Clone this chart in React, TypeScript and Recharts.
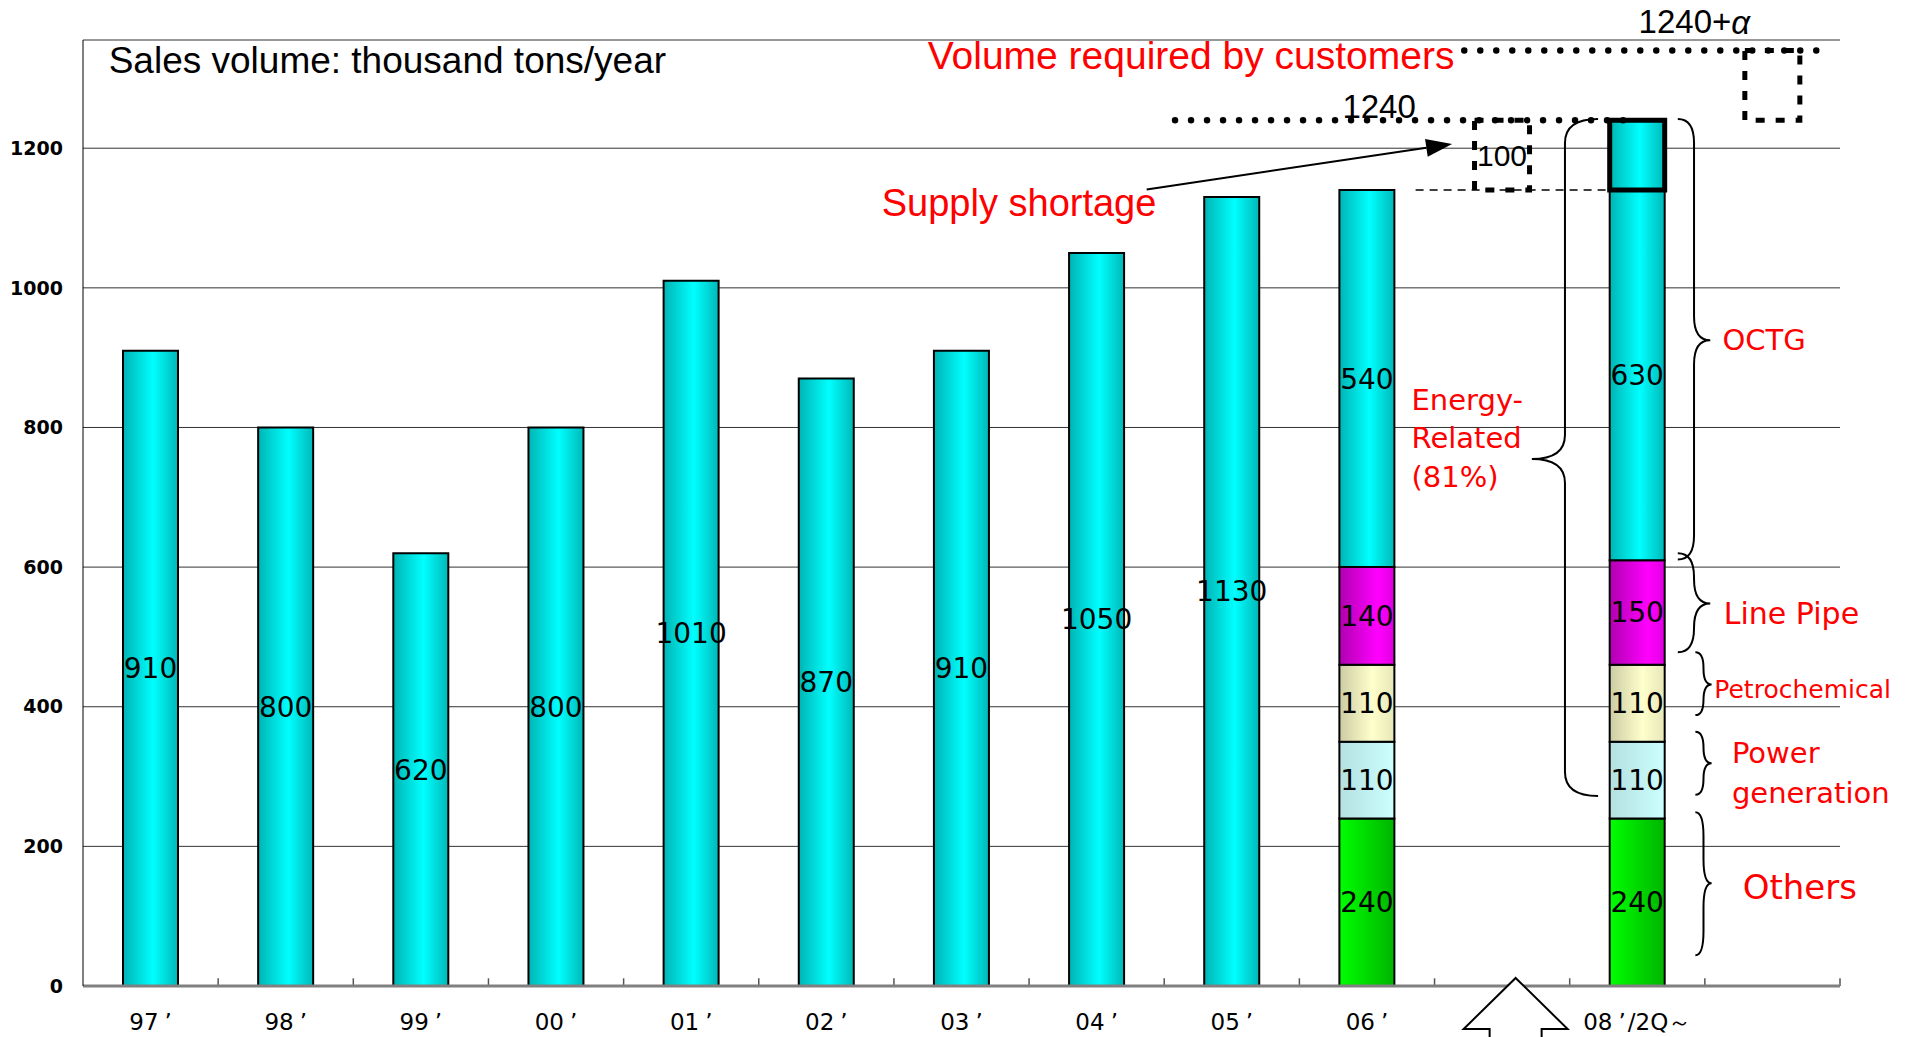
import type { ReactNode } from "react";
import {
  ComposedChart,
  Bar,
  XAxis,
  YAxis,
  CartesianGrid,
  LabelList,
  ReferenceLine,
  ReferenceDot,
  ReferenceArea,
} from "recharts";

// sales volume, thousand tons/year
const years = ["97’", "98’", "99’", "00’", "01’", "02’", "03’", "04’", "05’"];
const yearTotals = [910, 800, 620, 800, 1010, 870, 910, 1050, 1130];

// Others, Power generation, Petrochemical, Line Pipe, OCTG
const breakdown06 = [240, 110, 110, 140, 540];
const breakdown08 = [240, 110, 110, 150, 630];
const shortage = 100;
const alphaBox = 100; // "+α" is drawn as tall as the shortage
const yTicks = [0, 200, 400, 600, 800, 1000, 1200];

const sum = (a: number[]) => a.reduce((s, v) => s + v, 0);
const split = (year: string, b: number[], cut = 0) => ({
  year,
  others: b[0],
  power: b[1],
  petro: b[2],
  linePipe: b[3],
  octg: b[4] - cut,
  octgLabel: b[4],
  short: cut || null,
});

const rows = [
  ...years.map((year, i) => ({ year, total: yearTotals[i] })),
  split("06’", breakdown06),
  { year: "", gap: sum(breakdown06), wanted: shortage, wantedLabel: shortage },
  split("08’/2Q～", breakdown08, shortage),
  { year: " ", gap: sum(breakdown08), wanted: alphaBox },
].map((r, i) => ({ ...r, slot: i + 0.5 }));

const RED = "#ff0000";
const VERD = "DejaVu Sans, Verdana, sans-serif";
const ARIAL = "Liberation Sans, Arial, sans-serif";

type NoteOpts = { size: number; color?: string; font?: string; anchor?: "start" | "middle" | "end" };
const note = (key: string, text: ReactNode, x: number, y: number, o: NoteOpts) => (
  <ReferenceDot
    key={key}
    xAxisId="num"
    x={x}
    y={y}
    r={0}
    ifOverflow="visible"
    shape={(p: any) => (
      <text
        x={p.cx}
        y={p.cy}
        dominantBaseline="central"
        textAnchor={o.anchor ?? "start"}
        fontSize={o.size}
        fontFamily={o.font ?? VERD}
        fill={o.color ?? RED}
      >
        {text}
      </text>
    )}
  />
);

// curly brace inside the area box; tip = 0..1 from the top, dir "right" => "}"
const Brace = ({ x, y, width, height, tip, dir }: any) => {
  if (x == null) return null;
  const ends = dir === "right" ? x : x + width;
  const point = dir === "right" ? x + width : x;
  const mid = x + width / 2;
  const ty = y + tip * height;
  const r = Math.min(height / 4, 24);
  const d = `M${ends},${y} Q${mid},${y} ${mid},${y + r} L${mid},${ty - r} Q${mid},${ty} ${point},${ty} Q${mid},${ty} ${mid},${ty + r} L${mid},${y + height - r} Q${mid},${y + height} ${ends},${y + height}`;
  return <path d={d} fill="none" stroke="#000" strokeWidth={2} />;
};

const brace = (key: string, x1: number, x2: number, lo: number, hi: number, tipAt: number, dir: string) => (
  <ReferenceArea
    key={key}
    xAxisId="num"
    x1={x1}
    x2={x2}
    y1={lo}
    y2={hi}
    ifOverflow="visible"
    shape={(p: any) => <Brace {...p} dir={dir} tip={(hi - tipAt) / (hi - lo)} />}
  />
);

const ArrowLine = ({ x1, y1, x2, y2 }: any) => {
  const a = Math.atan2(y2 - y1, x2 - x1);
  const len = 26;
  const w = 9;
  const bx = x2 - len * Math.cos(a);
  const by = y2 - len * Math.sin(a);
  const nx = -Math.sin(a) * w;
  const ny = Math.cos(a) * w;
  return (
    <g>
      <line x1={x1} y1={y1} x2={bx} y2={by} stroke="#000" strokeWidth={2} />
      <polygon points={`${x2},${y2} ${bx + nx},${by + ny} ${bx - nx},${by - ny}`} fill="#000" />
    </g>
  );
};

const UpArrow = ({ cx, cy }: any) => {
  const tip = cy - 8;
  const base = cy + 43;
  const d = `M${cx},${tip} L${cx + 52},${base} L${cx + 26},${base} L${cx + 26},${cy + 70} L${cx - 26},${cy + 70} L${cx - 26},${base} L${cx - 52},${base} Z`;
  return <path d={d} fill="#fff" stroke="#000" strokeWidth={2} />;
};

// the apostrophe sits apart from the digits, as in the original
const YearTick = ({ x, y, payload }: any) => {
  const [head, ...rest] = String(payload.value).split("’");
  return (
    <text x={x} y={y} dy="0.71em" textAnchor="middle" fontSize={23} fontFamily={VERD} fill="#000">
      {head}
      {rest.length > 0 && <tspan dx={6}>’</tspan>}
      {rest.length > 0 && <tspan dx={2}>{rest.join("’")}</tspan>}
    </text>
  );
};

const valueLabel = { fill: "#000", fontSize: 28, fontFamily: VERD };

export default function App() {
  return (
    <div style={{ position: "absolute", left: 0, top: 0, background: "#fff" }}>
      <ComposedChart width={1913} height={1037} data={rows} margin={{ top: 40, right: 73, bottom: 0, left: 0 }}>
        <defs>
          <linearGradient id="gCyan" x1="0" y1="0" x2="1" y2="0">
            <stop offset="0" stopColor="#00b4b4" />
            <stop offset="0.55" stopColor="#00ffff" />
            <stop offset="1" stopColor="#00b8b8" />
          </linearGradient>
          <linearGradient id="gGreen" x1="0" y1="0" x2="1" y2="0">
            <stop offset="0" stopColor="#00ff00" />
            <stop offset="1" stopColor="#00b400" />
          </linearGradient>
          <linearGradient id="gPower" x1="0" y1="0" x2="1" y2="0">
            <stop offset="0" stopColor="#b4e0e0" />
            <stop offset="1" stopColor="#ccffff" />
          </linearGradient>
          <linearGradient id="gPetro" x1="0" y1="0" x2="1" y2="0">
            <stop offset="0" stopColor="#cccca4" />
            <stop offset="0.6" stopColor="#ffffcc" />
            <stop offset="1" stopColor="#e6e6b8" />
          </linearGradient>
          <linearGradient id="gMag" x1="0" y1="0" x2="1" y2="0">
            <stop offset="0" stopColor="#b000b0" />
            <stop offset="0.7" stopColor="#ff00ff" />
            <stop offset="1" stopColor="#e000e0" />
          </linearGradient>
        </defs>
        <CartesianGrid vertical={false} stroke="#333" strokeWidth={1} />
        <XAxis
          dataKey="year"
          height={51}
          interval={0}
          tickSize={0}
          tickMargin={28}
          tickLine={false}
          axisLine={{ stroke: "#808080", strokeWidth: 3 }}
          tick={<YearTick />}
        />
        <XAxis xAxisId="num" dataKey="slot" type="number" domain={[0, 13]} allowDataOverflow hide />
        <YAxis
          width={83}
          domain={[0, 1355]}
          ticks={yTicks}
          allowDataOverflow
          tickSize={0}
          tickMargin={20}
          tickLine={false}
          axisLine={{ stroke: "#000" }}
          tick={{ fill: "#000", fontSize: 19, fontFamily: VERD, fontWeight: "bold" }}
        />
        <Bar dataKey="total" stackId="s" barSize={55} fill="url(#gCyan)" stroke="#000" strokeWidth={2} isAnimationActive={false}>
          <LabelList dataKey="total" position="center" {...valueLabel} />
        </Bar>
        <Bar dataKey="others" stackId="s" barSize={55} fill="url(#gGreen)" stroke="#000" strokeWidth={2} isAnimationActive={false}>
          <LabelList dataKey="others" position="center" {...valueLabel} />
        </Bar>
        <Bar dataKey="power" stackId="s" barSize={55} fill="url(#gPower)" stroke="#000" strokeWidth={2} isAnimationActive={false}>
          <LabelList dataKey="power" position="center" {...valueLabel} />
        </Bar>
        <Bar dataKey="petro" stackId="s" barSize={55} fill="url(#gPetro)" stroke="#000" strokeWidth={2} isAnimationActive={false}>
          <LabelList dataKey="petro" position="center" {...valueLabel} />
        </Bar>
        <Bar dataKey="linePipe" stackId="s" barSize={55} fill="url(#gMag)" stroke="#000" strokeWidth={2} isAnimationActive={false}>
          <LabelList dataKey="linePipe" position="center" {...valueLabel} />
        </Bar>
        <Bar dataKey="octg" stackId="s" barSize={55} fill="url(#gCyan)" stroke="#000" strokeWidth={2} isAnimationActive={false}>
          <LabelList dataKey="octgLabel" position="center" {...valueLabel} />
        </Bar>
        <Bar dataKey="short" stackId="s" barSize={55} fill="url(#gCyan)" stroke="#000" strokeWidth={5} isAnimationActive={false} />
        <Bar dataKey="gap" stackId="s" barSize={55} fill="none" stroke="none" isAnimationActive={false} />
        <Bar
          dataKey="wanted"
          stackId="s"
          barSize={55}
          fill="none"
          stroke="#000"
          strokeWidth={5}
          strokeDasharray="9 11"
          isAnimationActive={false}
        >
          <LabelList dataKey="wantedLabel" position="center" fill="#000" fontSize={30} fontFamily={ARIAL} />
        </Bar>

        {/* small upward ticks between categories */}
        {rows.map((_, i) => (
          <ReferenceLine
            key={`t${i}`}
            xAxisId="num"
            segment={[{ x: i + 1, y: 0 }, { x: i + 1, y: 11 }]}
            stroke="#555"
            strokeWidth={1.5}
            ifOverflow="visible"
          />
        ))}

        <ReferenceLine
          xAxisId="num"
          segment={[{ x: 8.08, y: sum(breakdown08) }, { x: 11.48, y: sum(breakdown08) }]}
          stroke="#000"
          strokeWidth={6.5}
          strokeLinecap="round"
          strokeDasharray="0 16"
          ifOverflow="visible"
        />
        <ReferenceLine
          xAxisId="num"
          segment={[{ x: 10.22, y: sum(breakdown08) + alphaBox }, { x: 12.93, y: sum(breakdown08) + alphaBox }]}
          stroke="#000"
          strokeWidth={6.5}
          strokeLinecap="round"
          strokeDasharray="0 16"
          ifOverflow="visible"
        />
        <ReferenceLine
          xAxisId="num"
          segment={[{ x: 9.86, y: sum(breakdown06) }, { x: 11.28, y: sum(breakdown06) }]}
          stroke="#000"
          strokeWidth={1.5}
          strokeDasharray="8 6"
          ifOverflow="visible"
        />
        <ReferenceLine
          xAxisId="num"
          segment={[{ x: 7.87, y: 1141 }, { x: 10.13, y: 1206 }]}
          ifOverflow="visible"
          shape={(p: any) => <ArrowLine {...p} />}
        />

        {brace("b-energy", 10.72, 11.21, 272, 1242, 755, "left")}
        {brace("b-octg", 11.8, 12.04, 611, 1242, 925, "right")}
        {brace("b-pipe", 11.8, 12.04, 478, 620, 548, "right")}
        {brace("b-petro", 11.93, 12.05, 388, 478, 432, "right")}
        {brace("b-power", 11.93, 12.05, 274, 364, 319, "right")}
        {brace("b-others", 11.93, 12.05, 44, 249, 147, "right")}

        <ReferenceDot xAxisId="num" x={10.6} y={0} r={0} ifOverflow="visible" shape={(p: any) => <UpArrow {...p} />} />

        {note("title", "Sales volume: thousand tons/year", 0.19, 1326, { size: 37, color: "#000", font: ARIAL })}
        {note("need", "Volume required by customers", 6.25, 1333, { size: 39, font: ARIAL })}
        {note("short", "Supply shortage", 5.91, 1122, { size: 38, font: ARIAL })}
        {note("v1240", "1240", 9.59, 1260, { size: 33, color: "#000", font: ARIAL, anchor: "middle" })}
        {note(
          "v1240a",
          <>
            1240+<tspan fontStyle="italic">α</tspan>
          </>,
          11.51,
          1381,
          { size: 33, color: "#000", font: ARIAL }
        )}
        {note("e1", "Energy-", 9.83, 839, { size: 29 })}
        {note("e2", "Related", 9.83, 785, { size: 29 })}
        {note("e3", "(81%)", 9.83, 729, { size: 29 })}
        {note("octg", "OCTG", 12.13, 925, { size: 29 })}
        {note("pipe", "Line Pipe", 12.14, 534, { size: 30 })}
        {note("petro", "Petrochemical", 12.07, 425, { size: 25 })}
        {note("pow1", "Power", 12.2, 334, { size: 29 })}
        {note("pow2", "generation", 12.2, 276, { size: 29 })}
        {note("oth", "Others", 12.28, 142, { size: 34 })}
      </ComposedChart>
    </div>
  );
}
